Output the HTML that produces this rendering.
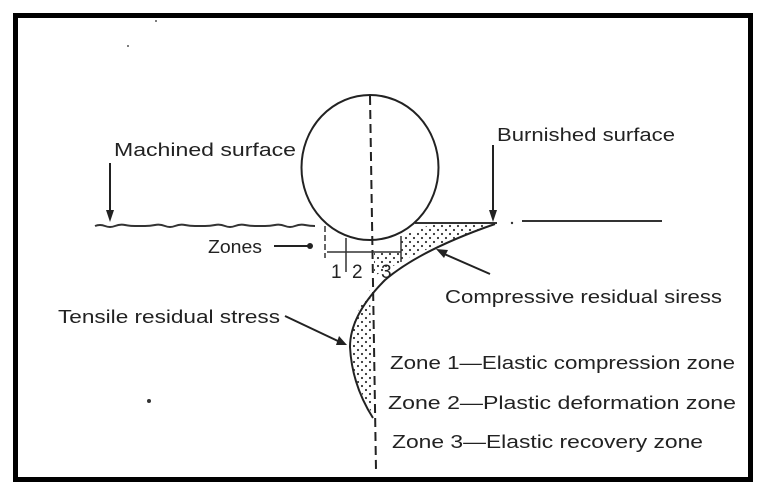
<!DOCTYPE html>
<html><head><meta charset="utf-8"><style>
html,body{margin:0;padding:0;background:#fff;}
svg{display:block;}
text{font-family:"Liberation Sans",sans-serif;fill:#222;}
</style></head><body>
<svg width="770" height="499" viewBox="0 0 770 499" xmlns="http://www.w3.org/2000/svg">
<defs>
<pattern id="dots" width="8" height="8" patternUnits="userSpaceOnUse">
<circle cx="2" cy="2" r="1.1" fill="#333"/><circle cx="6" cy="6" r="1.1" fill="#333"/>
</pattern>
</defs>
<rect x="15.5" y="15.5" width="735" height="464" fill="none" stroke="#000" stroke-width="5"/>
<path d="M401,236 Q425,228 430,224 L495,224 Q420,250 401,262 Z" fill="url(#dots)"/>
<path d="M374,252 L401,252 L401,262 Q385,270 374,276 Z" fill="url(#dots)"/>
<path d="M370,290 Q350,320 350,347 Q352,380 373,415 Z" fill="url(#dots)"/>
<path d="M95,226 q5,-2 10,0 t10,0 t10,-1 t10,1 t10,0 t10,-1 t10,1 t10,0 t10,-1 t10,1 t10,0 t10,-1 t10,1 t10,0 t10,-1 t10,1 t10,0 t10,-1 t10,1 t10,0 t10,-1 t10,1" fill="none" stroke="#333" stroke-width="2"/>
<line x1="415" y1="223" x2="497" y2="223" stroke="#333" stroke-width="2"/>
<line x1="522" y1="221" x2="662" y2="221" stroke="#333" stroke-width="2"/>
<circle cx="512" cy="223" r="1.2" fill="#333"/>
<ellipse cx="370" cy="167.5" rx="68.5" ry="72.5" fill="none" stroke="#222" stroke-width="2"/>
<line x1="370" y1="96" x2="376" y2="470" stroke="#222" stroke-width="2" stroke-dasharray="9,5"/>
<line x1="325" y1="226" x2="325" y2="258" stroke="#333" stroke-width="1.5" stroke-dasharray="6,3"/>
<line x1="346" y1="238" x2="346" y2="272" stroke="#333" stroke-width="1.5"/>
<line x1="401" y1="236" x2="401" y2="262" stroke="#333" stroke-width="1.5"/>
<line x1="327" y1="252" x2="401" y2="252" stroke="#333" stroke-width="1.5"/>
<text x="331" y="278" font-size="19">1</text>
<text x="352" y="278" font-size="19">2</text>
<text x="381" y="278" font-size="19">3</text>
<path d="M495,224 Q420,250 385,280 Q350,315 350,347 Q352,385 373,418" fill="none" stroke="#222" stroke-width="2"/>
<line x1="110" y1="163" x2="110" y2="212" stroke="#222" stroke-width="2"/>
<polygon points="106,210 114,210 110,222" fill="#222"/>
<line x1="493" y1="145" x2="493" y2="212" stroke="#222" stroke-width="2"/>
<polygon points="489,210 497,210 493,222" fill="#222"/>
<line x1="274" y1="246" x2="308" y2="246" stroke="#222" stroke-width="2"/>
<circle cx="310" cy="246" r="3" fill="#222"/>
<line x1="490" y1="274" x2="442" y2="253" stroke="#222" stroke-width="2"/>
<polygon points="436,249 448,250 444,258" fill="#222"/>
<line x1="285" y1="316" x2="340" y2="342" stroke="#222" stroke-width="2"/>
<polygon points="347,345 336,345 339,336" fill="#222"/>
<text x="114" y="156" font-size="18" textLength="182" lengthAdjust="spacingAndGlyphs">Machined surface</text>
<text x="497" y="141" font-size="18" textLength="178" lengthAdjust="spacingAndGlyphs">Burnished surface</text>
<text x="208" y="253" font-size="18" textLength="54" lengthAdjust="spacingAndGlyphs">Zones</text>
<text x="445" y="303" font-size="18" textLength="277" lengthAdjust="spacingAndGlyphs">Compressive residual siress</text>
<text x="58" y="323" font-size="18" textLength="222" lengthAdjust="spacingAndGlyphs">Tensile residual stress</text>
<text x="390" y="369" font-size="18.5" textLength="345" lengthAdjust="spacingAndGlyphs">Zone 1—Elastic compression zone</text>
<text x="388" y="409" font-size="18.5" textLength="348" lengthAdjust="spacingAndGlyphs">Zone 2—Plastic deformation zone</text>
<text x="392" y="448" font-size="18.5" textLength="311" lengthAdjust="spacingAndGlyphs">Zone 3—Elastic recovery zone</text>
<circle cx="149" cy="401" r="2" fill="#333"/>
<circle cx="128" cy="46" r="1" fill="#555"/>
<circle cx="156" cy="21" r="1" fill="#555"/>
</svg>
</body></html>
